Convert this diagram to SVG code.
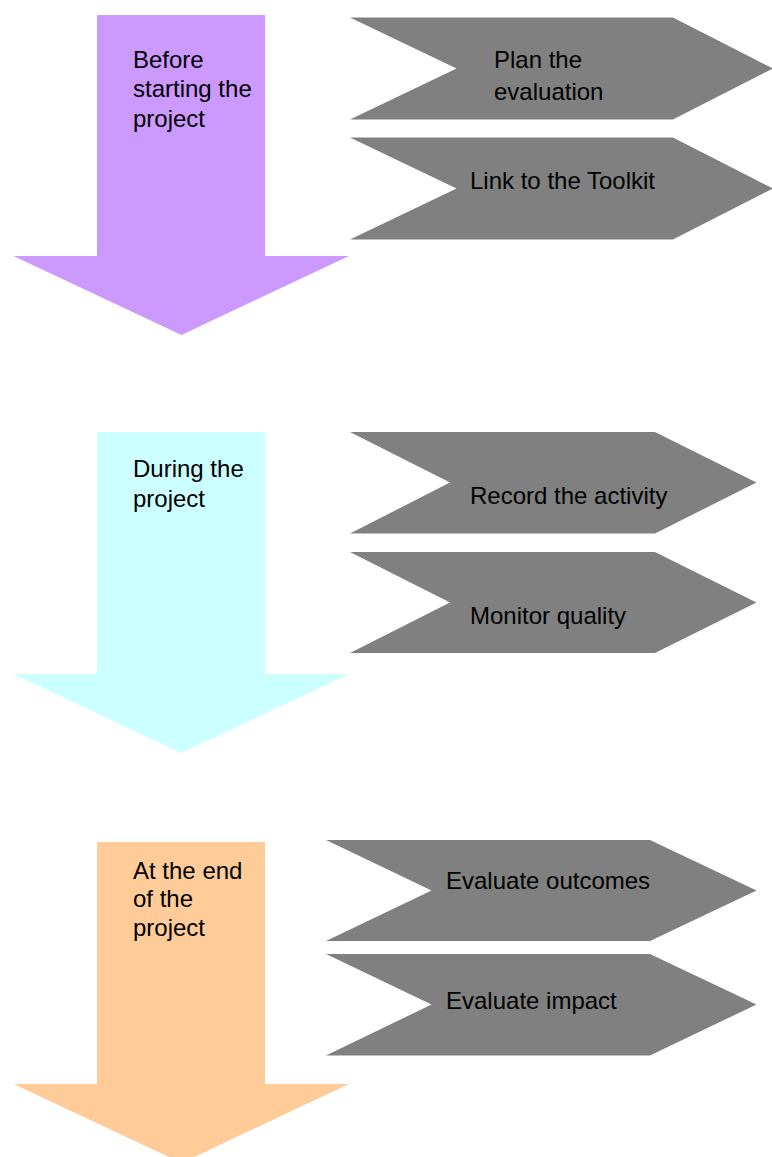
<svg xmlns="http://www.w3.org/2000/svg" width="772" height="1157" viewBox="0 0 772 1157">
<style>
text{font-family:"Liberation Sans",Arial,sans-serif;font-size:24px;fill:#000}
.step{fill:#808080}
</style>
<rect width="772" height="1157" fill="#fff"/>
<g id="phase-before">
<polygon points="97,15 265,15 265,256 349,256 181.5,335 13.5,256 97,256" fill="#CC99FF"/>
<text x="133" y="68">Before</text>
<text x="133" y="97">starting the</text>
<text x="133" y="126.5">project</text>
</g>
<g id="step-plan">
<polygon class="step" points="350,17.5 673,17.5 773,68.5 673,119.5 350,119.5 456.5,68.5"/>
<text x="494" y="68">Plan the</text>
<text x="494" y="99.5">evaluation</text>
</g>
<g id="step-link">
<polygon class="step" points="350,137.5 673,137.5 773,188.5 673,239.5 350,239.5 456.5,188.5"/>
<text x="470" y="188.5">Link to the Toolkit</text>
</g>
<g id="phase-during">
<polygon points="97,432 265,432 265,674 349,674 181.5,753 13.5,674 97,674" fill="#CCFFFF"/>
<text x="133" y="476.5">During the</text>
<text x="133" y="506.5">project</text>
</g>
<g id="step-record">
<polygon class="step" points="350,432 655,432 756.5,482.5 655,533.5 350,533.5 450,482.5"/>
<text x="470" y="503.5">Record the activity</text>
</g>
<g id="step-monitor">
<polygon class="step" points="350,552 655,552 756.5,602.5 655,653 350,653 450,602.5"/>
<text x="470" y="624">Monitor quality</text>
</g>
<g id="phase-end">
<polygon points="97,842 265,842 265,1084 349,1084 181.5,1163 13.5,1084 97,1084" fill="#FFCC99"/>
<text x="133" y="878.5">At the end</text>
<text x="133" y="907">of the</text>
<text x="133" y="936">project</text>
</g>
<g id="step-outcomes">
<polygon class="step" points="326,840 650,840 756.5,890.5 650,941 326,941 431.5,890.5"/>
<text x="446" y="888.5">Evaluate outcomes</text>
</g>
<g id="step-impact">
<polygon class="step" points="326,954 650,954 756.5,1004.5 650,1055.5 326,1055.5 431.5,1004.5"/>
<text x="446" y="1008.5">Evaluate impact</text>
</g>
<g id="connectors"></g>
</svg>
